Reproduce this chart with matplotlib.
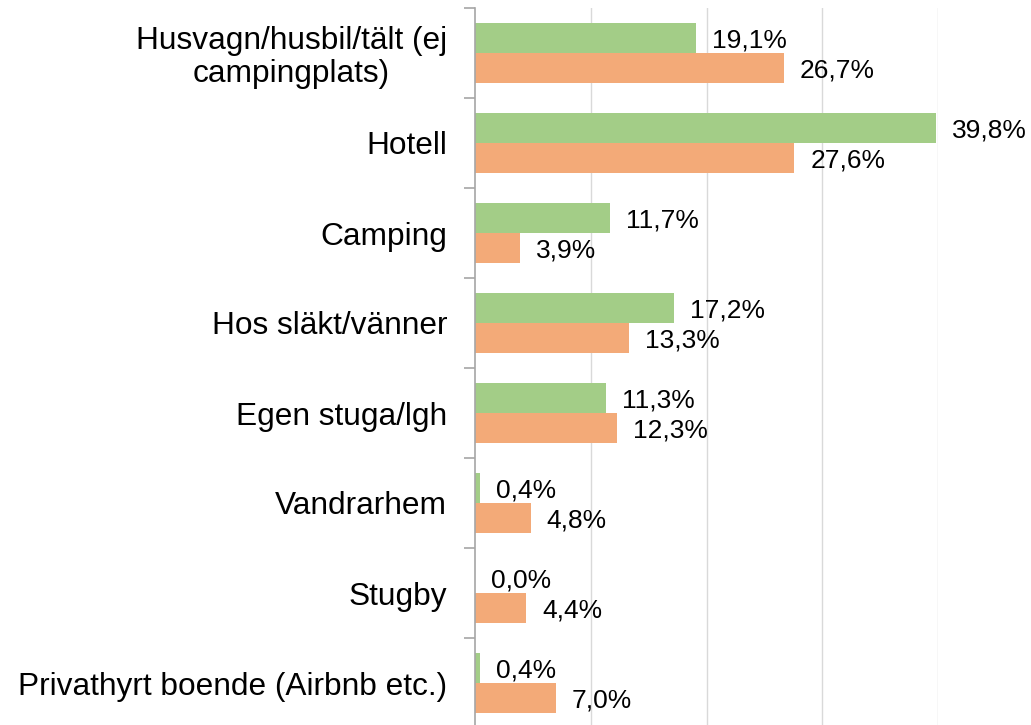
import matplotlib
matplotlib.use("Agg")
import matplotlib.pyplot as plt
import numpy as np

categories = [
    "Husvagn/husbil/tält (ej\ncampingplats)",
    "Hotell",
    "Camping",
    "Hos släkt/vänner",
    "Egen stuga/lgh",
    "Vandrarhem",
    "Stugby",
    "Privathyrt boende (Airbnb etc.)",
]
green_vals = [19.1, 39.8, 11.7, 17.2, 11.3, 0.4, 0.0, 0.4]
orange_vals = [26.7, 27.6, 3.9, 13.3, 12.3, 4.8, 4.4, 7.0]

GREEN = "#A3CD87"
ORANGE = "#F3AA78"

plt.rcParams['font.family'] = ['Liberation Sans', 'DejaVu Sans']

fig = plt.figure(figsize=(10.31, 7.25), dpi=100)
ax = fig.add_axes([475/1031, -3/725, 463/1031, 720/725])

y = np.arange(len(categories))
h = 1/3
b1 = ax.barh(y - h/2, green_vals, height=h, color=GREEN, zorder=2)
b2 = ax.barh(y + h/2, orange_vals, height=h, color=ORANGE, zorder=2)

def fmt(v):
    return f"{v:.1f}%".replace(".", ",")

for bars, vals in ((b1, green_vals), (b2, orange_vals)):
    for rect, v in zip(bars, vals):
        ax.annotate(fmt(v), xy=(rect.get_width(), rect.get_y() + rect.get_height()/2),
                    xytext=(11.5, -1.5), textcoords="offset points",
                    ha="left", va="center", fontsize=19, color="#000000",
                    annotation_clip=False)

ax.set_xlim(0, 40)
ax.set_ylim(len(categories) - 0.5, -0.5)

ax.set_xticks([10, 20, 30, 40])
ax.xaxis.grid(True, color="#D9D9D9", linewidth=1.0, zorder=0)
ax.tick_params(axis="x", length=0, labelbottom=False)

# major ticks at category boundaries, labels at centers
ax.set_yticks(np.arange(-0.5, len(categories) + 0.5, 1.0))
ax.set_yticklabels([])
ax.tick_params(axis="y", which="major", length=8, width=1.2, color="#A6A6A6")
ax.set_yticks(y, minor=True)
ax.set_yticklabels(categories, minor=True, fontsize=22.8)
ax.tick_params(axis="y", which="minor", length=0, pad=20)
for lbl in ax.get_yticklabels(minor=True):
    lbl.set_multialignment("center")
    lbl.set_linespacing(1.1)

for s in ["top", "right", "bottom"]:
    ax.spines[s].set_visible(False)
ax.spines["left"].set_color("#A6A6A6")
ax.spines["left"].set_linewidth(1.2)
ax.set_axisbelow(True)

fig.savefig("out.png", dpi=100)
